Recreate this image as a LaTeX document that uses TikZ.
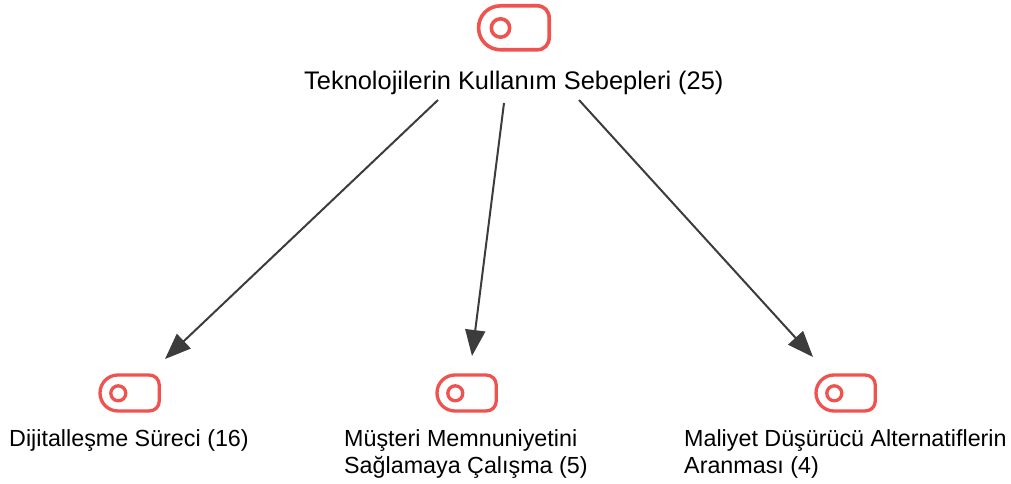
\documentclass[tikz,border=0pt]{standalone}
\usepackage{fontspec}
\setmainfont{Liberation Sans}
\usetikzlibrary{arrows.meta}
\tikzset{
  x=1pt,y=-1pt,
  iconline/.style={draw=iconred,line width=3.6pt,line join=round},
  leafline/.style={draw=iconred,line width=3.3pt,line join=round},
  toplabel/.style={inner sep=0pt,anchor=base west,font=\fontsize{25.4}{27}\selectfont,text=black},
  leaflabel/.style={inner sep=0pt,anchor=base west,font=\fontsize{23.3}{27}\selectfont,text=black,align=left},
  link/.style={draw=linegray,line width=2pt,-{Triangle[length=26pt,width=20pt,fill=linegray]},shorten >=0pt},
}
\definecolor{iconred}{HTML}{EF5350}
\definecolor{linegray}{HTML}{3C3C3C}
\begin{document}
\begin{tikzpicture}
\useasboundingbox (0,0) rectangle (1011,484);
% top icon
\draw[iconline] (501,5.8) -- (537,5.8) .. controls (544.5,5.8) and (549.2,11) .. (549.2,18.5) -- (549.2,37) .. controls (549.2,44.5) and (544.5,49.8) .. (537,49.8) -- (501,49.8) .. controls (488,49.8) and (478.6,40) .. (478.6,27.8) .. controls (478.6,15.6) and (488,5.8) .. (501,5.8) -- cycle;
\draw[iconline] (500.5,28) circle (9.2);
% leaf icons
\foreach \dx in {0,337,716}{
\begin{scope}[xshift=\dx pt]
\draw[leafline] (118,375) -- (149,375) .. controls (155,375) and (159.3,379.3) .. (159.3,385.3) -- (159.3,400.7) .. controls (159.3,406.7) and (155,411) .. (149,411) -- (118,411) .. controls (108,411) and (100,403) .. (100,393) .. controls (100,383) and (108,375) .. (118,375) -- cycle;
\draw[leafline] (118.3,393.3) circle (7.5);
\end{scope}}
% labels
\node[toplabel] (root) at (304,90) {Teknolojilerin Kullanım Sebepleri (25)};
\node[leaflabel] (a) at (9,446) {Dijitalleşme Süreci (16)};
\node[leaflabel] (b) at (344,446) {\begin{tabular}[t]{@{}l@{}}Müşteri Memnuniyetini\\[0pt]Sağlamaya Çalışma (5)\end{tabular}};
\node[leaflabel] (c) at (684,446) {\begin{tabular}[t]{@{}l@{}}Maliyet Düşürücü Alternatiflerin\\[0pt]Aranması (4)\end{tabular}};
% connector ends
\coordinate (r1) at (438,100);
\coordinate (r2) at (504,103);
\coordinate (r3) at (579,100);
\coordinate (e1) at (165,359);
\coordinate (e2) at (472,356);
\coordinate (e3) at (813,357);
\draw[link] (r1) -- (e1);
\draw[link] (r2) -- (e2);
\draw[link] (r3) -- (e3);
\end{tikzpicture}
\end{document}
